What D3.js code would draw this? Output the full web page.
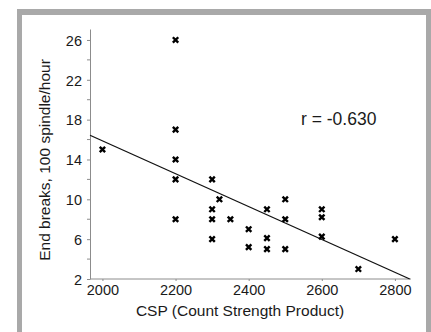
<!DOCTYPE html>
<html>
<head>
<meta charset="utf-8">
<script src="https://cdn.jsdelivr.net/npm/d3@7"></script>
<style>
  html, body { margin: 0; padding: 0; background: #fff; }
  svg { display: block; }
  text { font-family: Arial, "Liberation Sans", sans-serif; fill: #1a1a1a; }
</style>
</head>
<body>
<svg id="chart" width="431" height="332"></svg>
<script>
// CSP values and end-break rates (per 100 spindle-hours)
const csp = [2000, 2200, 2200, 2200, 2200, 2200, 2300, 2300, 2300, 2300, 2320, 2350,
             2400, 2400, 2450, 2450, 2450, 2500, 2500, 2500, 2600, 2600, 2600, 2700, 2800];
const endBreaks = [15, 26, 17, 14, 12, 8, 12, 9, 8, 6, 10, 8,
                   7, 5.2, 9, 6.1, 5, 10, 8, 5, 9, 8.2, 6.25, 3, 6];

// Fitted trend line: breaks = intercept + slope * CSP
const fitIntercept = 48.87;
const fitSlope = -0.0165;
const corrLabel = "r = -0.630";

const xTicks = [2000, 2200, 2400, 2600, 2800];
const yTicks = [2, 6, 10, 14, 18, 22, 26];
const yMinorTicks = [4, 8, 12, 16, 20, 24];

const svg = d3.select("#chart");

// grey frame around the plot
svg.append("rect").attr("x", 17).attr("y", 9).attr("width", 420).attr("height", 340).attr("fill", "#a9a9a9");
svg.append("rect").attr("x", 22).attr("y", 15).attr("width", 404).attr("height", 340).attr("fill", "#fff");

const x = d3.scaleLinear().domain([1966, 2844]).range([90, 411]);
const y = d3.scaleLinear().domain([2, 27.1]).range([279, 29]);

const axisColor = "#8c8c8c";

// y axis
const yAxis = svg.append("g").attr("transform", "translate(90,0)")
  .call(d3.axisLeft(y).tickValues(yTicks).tickFormat(d3.format("d"))
    .tickSize(3).tickSizeOuter(0).tickPadding(5));
yAxis.append("g").selectAll("line").data(yMinorTicks).join("line")
  .attr("x1", -3).attr("x2", 0).attr("y1", d => y(d)).attr("y2", d => y(d))
  .attr("stroke", axisColor);

// x axis
const xAxis = svg.append("g").attr("transform", "translate(0,279)")
  .call(d3.axisBottom(x).tickValues(xTicks).tickFormat(d3.format("d"))
    .tickSize(2).tickSizeOuter(0).tickPadding(3));

[yAxis, xAxis].forEach(g => {
  g.select(".domain").attr("stroke", axisColor);
  g.selectAll(".tick line").attr("stroke", axisColor);
  g.selectAll(".tick text").attr("font-size", "14.5px").attr("fill", "#1a1a1a")
    .attr("font-family", "Arial, 'Liberation Sans', sans-serif");
});
yAxis.selectAll(".tick text").attr("dy", "0.36em");
xAxis.selectAll(".tick text").attr("dy", "0.78em");
// x axis line runs from the y axis to the right edge
xAxis.select(".domain").attr("d", `M${x.range()[0]},0H${x.range()[1]}`);

// trend line from the left edge until it meets the bottom of the axis
const xStart = x.domain()[0];
const xEnd = (y.domain()[0] - fitIntercept) / fitSlope;
svg.append("line")
  .attr("x1", x(xStart)).attr("y1", y(fitIntercept + fitSlope * xStart))
  .attr("x2", x(xEnd)).attr("y2", y(fitIntercept + fitSlope * xEnd))
  .attr("stroke", "#111").attr("stroke-width", 1.3);

// cross markers
const s = 2.7;
svg.append("g").selectAll("path").data(csp.map((c, i) => [c, endBreaks[i]])).join("path")
  .attr("transform", d => `translate(${x(d[0])},${y(d[1])})`)
  .attr("d", `M${-s},${-s}L${s},${s}M${-s},${s}L${s},${-s}`)
  .attr("stroke", "#000").attr("stroke-width", 2.4).attr("fill", "none");

// correlation label
svg.append("text").attr("x", 301).attr("y", 125).attr("font-size", "17.5px").text(corrLabel);

// axis titles
svg.append("text").attr("x", 240).attr("y", 316).attr("text-anchor", "middle")
  .attr("font-size", "15.5px").text("CSP (Count Strength Product)");
svg.append("text").attr("transform", "translate(50,160) rotate(-90)").attr("text-anchor", "middle")
  .attr("font-size", "15.5px").text("End breaks, 100 spindle/hour");
</script>
</body>
</html>
